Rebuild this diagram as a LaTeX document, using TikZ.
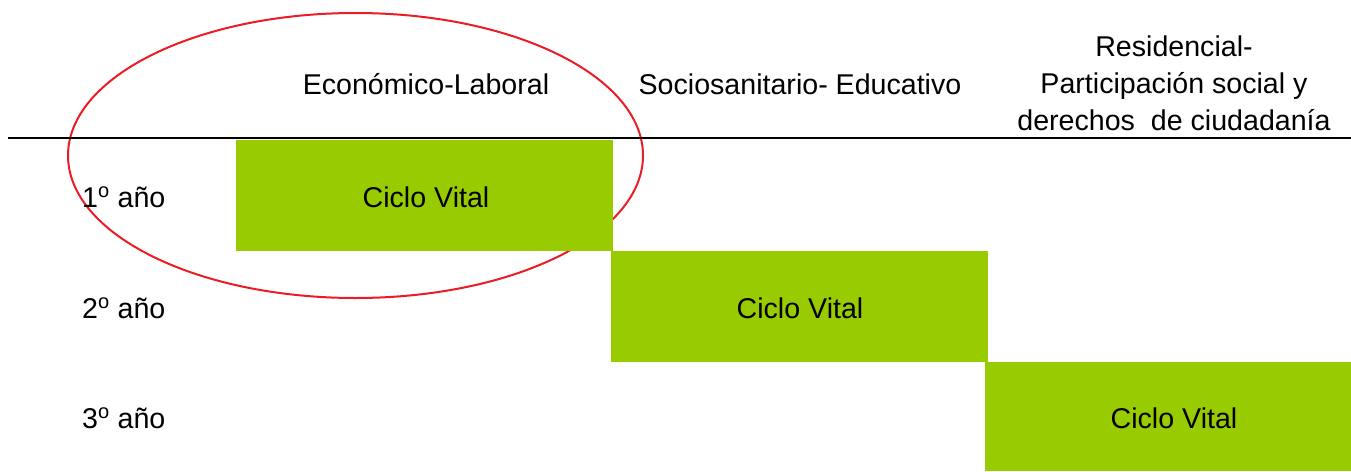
\documentclass[tikz,border=0pt]{standalone}
\usepackage{fontspec}
\setmainfont{Liberation Sans}
\usetikzlibrary{shapes.geometric}
\definecolor{vgreen}{RGB}{153,204,0}
\definecolor{ored}{RGB}{237,28,36}
\begin{document}
\begin{tikzpicture}[x=1pt,y=-1pt,
  txt/.style={font=\fontsize{28.6}{37}\selectfont, inner sep=0pt, text=black},
  cell/.style={fill=vgreen, draw=none, inner sep=0pt, font=\fontsize{28.6}{37}\selectfont},
  hdr/.style={txt, align=center, anchor=base},
  yr/.style={txt, anchor=base west}]
\useasboundingbox (0,0) rectangle (1351,471);
% ellipse (behind)
\node[draw=ored, line width=2pt, ellipse, minimum width=575, minimum height=285, inner sep=0pt] (ell) at (355.5,155.5) {};
% header rule
\coordinate (rl) at (8,138);
\coordinate (rr) at (1351,138);
\draw[line width=2.8pt] (rl) -- (rr);
% headers
\node[hdr] (h1) at (426,94) {Económico-Laboral};
\node[hdr] (h2) at (800,94) {Sociosanitario- Educativo};
\node[hdr] (h3) at (1174,130) {Residencial-\\Participación social y\\derechos\ \ de ciudadanía};
% year labels
\node[yr] (y1) at (82,207) {1\textsuperscript{o} año};
\node[yr] (y2) at (82,318) {2\textsuperscript{o} año};
\node[yr] (y3) at (82,428) {3\textsuperscript{o} año};
% boxes
\node[cell, minimum width=377, minimum height=111] (c1) at (424.5,195.5) {};
\node[cell, minimum width=377, minimum height=111] (c2) at (799.5,306.5) {};
\node[cell, minimum width=366, minimum height=109] (c3) at (1168,416.5) {};
\node[txt, anchor=base] (t1) at (426,207) {Ciclo Vital};
\node[txt, anchor=base] (t2) at (800,318) {Ciclo Vital};
\node[txt, anchor=base] (t3) at (1174,428) {Ciclo Vital};
\end{tikzpicture}
\end{document}
